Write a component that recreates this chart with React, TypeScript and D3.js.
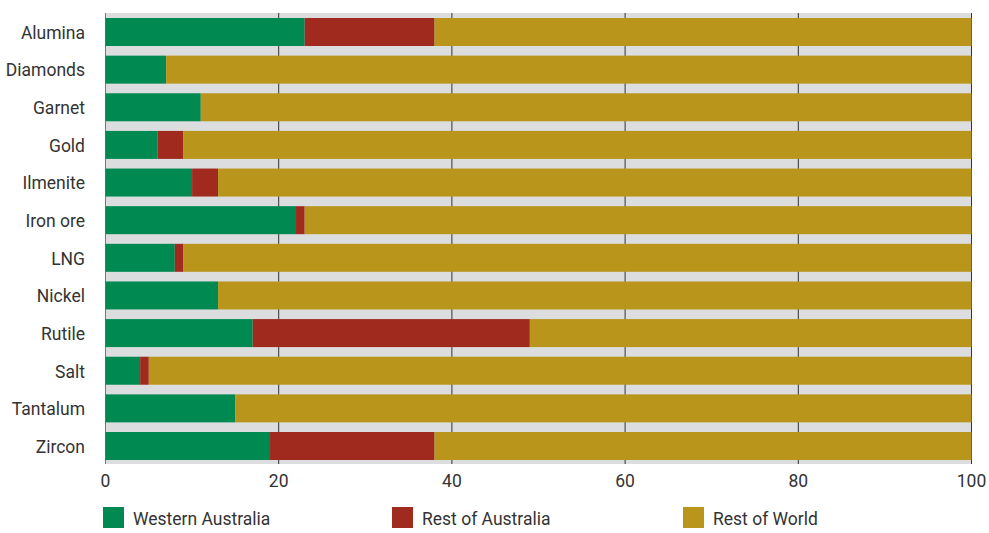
import React from "react";
import * as d3 from "d3";

const categories = ["Alumina", "Diamonds", "Garnet", "Gold", "Ilmenite", "Iron ore", "LNG", "Nickel", "Rutile", "Salt", "Tantalum", "Zircon"];
const westernAustralia = [23, 7, 11, 6, 10, 22, 8, 13, 17, 4, 15, 19];
const restOfAustralia = [15, 0, 0, 3, 3, 1, 1, 0, 32, 1, 0, 19];
const restOfWorld = categories.map((_, i) => 100 - westernAustralia[i] - restOfAustralia[i]);
const seriesNames = ["Western Australia", "Rest of Australia", "Rest of World"];
const seriesColors = ["#008a52", "#a12a1f", "#b9951c"];
const xTicks = [0, 20, 40, 60, 80, 100];

const W = 989, H = 533;
const FONT = "Roboto, 'Liberation Sans', Arial, sans-serif";
const FS = 17.5;

export default function App() {
  const x = d3.scaleLinear().domain([0, 100]).range([105.5, 971.5]);
  const y = d3.scaleBand<string>().domain(categories).range([18, 460]).paddingInner(0.256).paddingOuter(0);
  const rows = categories.map((c, i) => ({
    cat: c,
    "Western Australia": westernAustralia[i],
    "Rest of Australia": restOfAustralia[i],
    "Rest of World": restOfWorld[i],
  }));
  const stacked = d3.stack<any>().keys(seriesNames)(rows);
  const bgTop = 13, bgBottom = 464;
  const legendX = [103, 392, 683];

  return (
    <svg width={W} height={H} style={{ position: "absolute", left: 0, top: 0, fontFamily: FONT }}>
      <rect x={x(0)} y={bgTop} width={x(100) - x(0)} height={bgBottom - bgTop} fill="#dcdddf" />
      {xTicks.map((t) => (
        <line key={t} x1={x(t)} x2={x(t)} y1={bgTop} y2={bgBottom} stroke={t === 0 ? "#777" : "#333"} strokeWidth={1} />
      ))}
      {stacked.map((s, si) => (
        <g key={s.key} fill={seriesColors[si]}>
          {s.map((d, i) => (
            d[1] - d[0] > 0 ? (
              <rect key={i} x={x(d[0])} y={y(categories[i])} width={x(d[1]) - x(d[0])} height={y.bandwidth()} />
            ) : null
          ))}
        </g>
      ))}
      {categories.map((c) => (
        <text key={c} x={85} y={(y(c) as number) + y.bandwidth() / 2 + 0.5} dy="0.36em" textAnchor="end" fontSize={FS} fill="#333">{c}</text>
      ))}
      {xTicks.map((t) => (
        <text key={t} x={x(t)} y={481} dy="0.36em" textAnchor="middle" fontSize={FS} fill="#333">{t}</text>
      ))}
      {seriesNames.map((n, i) => (
        <g key={n}>
          <rect x={legendX[i]} y={507} width={21} height={21} fill={seriesColors[i]} />
          <text x={legendX[i] + 30} y={518.5} dy="0.36em" fontSize={FS} fill="#333">{n}</text>
        </g>
      ))}
    </svg>
  );
}
